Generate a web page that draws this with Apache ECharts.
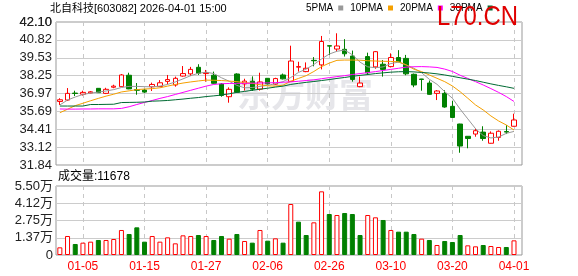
<!DOCTYPE html>
<html><head><meta charset="utf-8">
<script src="https://cdn.jsdelivr.net/npm/echarts@6/dist/echarts.min.js"></script>
<style>html,body{margin:0;padding:0;background:#fff}#c{width:578px;height:276px}</style>
</head><body><div id="c"></div>
<script>
const dates = ['12-29','12-30','12-31','01-05','01-06','01-07','01-08','01-09','01-12','01-13',
'01-14','01-15','01-16','01-19','01-20','01-21','01-22','01-23','01-26','01-27',
'01-28','01-29','01-30','02-02','02-03','02-04','02-05','02-06','02-09','02-10',
'02-11','02-12','02-13','02-24','02-25','02-26','02-27','03-02','03-03','03-04',
'03-05','03-06','03-09','03-10','03-11','03-12','03-13','03-16','03-17','03-18',
'03-19','03-20','03-23','03-24','03-25','03-26','03-27','03-30','03-31','04-01'];
const xTickLabels = ['01-05','01-15','01-27','02-06','02-26','03-10','03-20','04-01'];
const priceTickLabels = ['31.84','33.12','34.41','35.69','36.97','38.25','39.53','40.82','42.10'];
const volTickLabels = ['0','1.37万','2.75万','4.12万','5.50万'];
const opens = [36.40,36.50,37.00,36.92,37.01,37.34,36.98,37.42,37.46,38.28,
37.25,37.22,37.45,37.47,37.84,37.58,38.22,38.38,38.85,38.40,
38.28,37.65,36.74,38.37,37.66,37.85,37.28,38.06,37.64,38.30,
37.84,38.86,38.54,39.35,39.02,40.40,40.16,40.14,39.66,37.46,
39.62,38.88,39.07,38.90,39.55,39.49,38.35,38.01,37.72,36.98,
36.98,36.05,34.78,33.90,34.06,34.20,33.40,33.82,34.24,34.62];
const closes = [36.52,36.98,36.97,37.05,37.09,37.03,37.27,37.50,38.30,37.30,
37.20,37.07,37.62,37.74,37.97,38.06,38.40,38.70,38.42,38.46,
37.70,36.83,37.27,37.06,37.86,37.28,37.80,37.66,38.04,38.02,
39.30,38.90,38.78,39.32,40.70,40.37,40.38,39.82,37.98,37.72,
38.45,39.97,38.70,39.55,39.26,38.38,37.58,37.98,36.91,37.15,
36.00,35.25,33.20,33.74,34.30,33.74,34.12,34.26,34.20,35.07];
const lows = [36.15,36.43,36.79,36.82,36.98,37.02,36.93,37.35,37.44,37.28,
36.88,37.00,37.15,37.44,37.63,37.46,38.18,38.22,38.30,37.82,
37.68,36.74,36.31,37.02,37.18,37.15,37.18,37.62,37.60,37.98,
37.80,38.54,38.50,38.92,38.70,39.73,39.97,39.62,37.82,37.42,
38.30,38.75,38.18,38.84,39.20,38.28,37.42,37.17,36.88,36.50,
35.95,35.22,32.72,33.04,33.87,33.58,33.38,33.58,34.06,34.60];
const highs = [36.63,37.36,37.17,37.17,37.15,37.36,37.38,37.60,38.37,38.46,
37.72,37.30,37.75,37.93,38.30,38.18,38.94,38.88,39.07,38.66,
38.54,37.72,37.41,38.42,38.03,38.20,38.46,38.08,38.10,38.40,
40.40,39.25,39.20,39.58,41.10,40.42,41.29,40.87,40.05,38.18,
39.90,40.02,39.37,39.85,40.08,39.74,38.40,38.02,37.90,37.22,
37.20,36.45,34.80,33.92,34.45,34.62,34.25,34.32,34.70,35.52];
const volumes = [6110,15145,8770,9830,10630,11960,11960,12750,19930,16740,
22050,10630,15145,10630,14080,9300,15670,15145,15940,15145,
11960,15145,13020,16740,11160,9830,19930,11425,13280,9830,
40650,26570,15940,26040,50750,32680,31880,33480,32680,15940,
31880,30030,27900,19930,18600,18600,16740,13020,11960,7970,
11160,10360,15940,7700,6910,7970,7170,6380,6380,11678];
const prevClose = 36.30;
const ma5 = [36.15,36.50,36.72,36.90,37.00,37.07,37.15,37.25,37.40,37.48,
37.48,37.46,37.45,37.50,37.62,37.80,38.02,38.25,38.42,38.50,
38.40,38.10,37.85,37.55,37.38,37.40,37.48,37.55,37.68,37.82,
38.12,38.48,38.72,39.05,39.45,39.80,40.00,40.09,39.75,39.22,
38.88,38.82,38.88,39.12,39.22,39.02,38.78,38.46,37.99,37.63,
37.10,36.63,35.85,35.15,34.45,33.95,33.78,33.85,34.11,34.25];
const ma10 = [35.59,35.84,36.10,36.27,36.45,36.62,36.78,36.92,37.08,37.16,
37.25,37.29,37.32,37.38,37.50,37.62,37.72,37.80,37.87,37.93,
37.92,37.90,37.86,37.82,37.75,37.70,37.60,37.52,37.50,37.57,
37.85,38.05,38.25,38.55,38.90,39.15,39.35,39.37,39.37,39.36,
39.32,39.30,39.28,39.27,39.25,39.02,38.71,38.54,38.30,38.06,
37.82,37.51,37.10,36.63,36.15,35.79,35.36,35.00,34.71,34.35];
const ma20 = [35.86,35.85,35.85,35.86,35.86,35.87,35.87,35.87,35.90,36.02,
36.18,36.33,36.47,36.62,36.75,36.90,37.05,37.20,37.35,37.50,
37.62,37.67,37.69,37.70,37.70,37.71,37.72,37.73,37.75,37.78,
37.80,37.85,37.90,37.95,38.03,38.11,38.18,38.25,38.33,38.40,
38.47,38.54,38.62,38.70,38.78,38.86,38.89,38.90,38.88,38.84,
38.72,38.55,38.28,38.05,37.82,37.58,37.32,37.05,36.75,36.40];
const ma30 = [36.07,36.07,36.07,36.07,36.18,36.18,36.19,36.20,36.32,36.33,
36.34,36.36,36.42,36.44,36.47,36.52,36.57,36.63,36.68,36.75,
36.80,36.86,36.95,37.05,37.12,37.20,37.28,37.35,37.43,37.50,
37.62,37.70,37.77,37.83,37.90,37.97,38.05,38.12,38.20,38.27,
38.33,38.40,38.45,38.50,38.53,38.54,38.52,38.48,38.44,38.38,
38.30,38.20,38.10,38.00,37.90,37.78,37.66,37.55,37.45,37.34];

function measure(font, text) {
  const ctx = document.createElement('canvas').getContext('2d');
  ctx.font = font; return ctx.measureText(text).width;
}
const narrowOK = measure('28px "Liberation Sans Narrow", monospace', 'L70.CN') !== measure('28px monospace', 'L70.CN');
const SANS = '"Liberation Sans", "Noto Sans CJK SC", sans-serif';
const NARROW = narrowOK ? '"Liberation Sans Narrow", "Noto Sans CJK SC", sans-serif' : SANS;
const markW = measure('28px ' + NARROW, 'L70.CN');

const tickIdx = xTickLabels.map(d => dates.indexOf(d));
const UP = '#ff0000', DOWN = '#008000';
const priceTickValues = priceTickLabels.map(Number);
const P_MIN = priceTickValues[0], P_MAX = priceTickValues[priceTickValues.length - 1];
const P_INT = (P_MAX - P_MIN) / (priceTickValues.length - 1);
const V_MAX = 55000, V_INT = V_MAX / 4;

const candleData = dates.map((d, i) => [i, opens[i], closes[i], lows[i], highs[i]]);
const volData = volumes.map((v, i) => {
  const pc = i === 0 ? prevClose : closes[i - 1];
  const up = closes[i] >= pc;
  return { value: [i, v], itemStyle: up ? { color: '#fff', borderColor: UP, borderWidth: 1 } : { color: DOWN, borderColor: DOWN, borderWidth: 1 } };
});
const line = (name, arr, color) => ({
  name, type: 'line', xAxisIndex: 0, yAxisIndex: 0, data: arr.map((v, i) => [i, v]),
  showSymbol: false, symbol: 'none', lineStyle: { width: 1, color }, itemStyle: { color }, z: 4, silent: true
});
const xAxisFor = (gi, show) => ({
  type: 'value', gridIndex: gi, min: -0.5, max: 60.04,
  axisLine: { show: false, onZero: false },
  axisTick: { show: false, customValues: tickIdx },
  axisLabel: { show: show, customValues: tickIdx, formatter: v => dates[Math.round(v)], color: UP, fontSize: 12, margin: 6, fontFamily: SANS },
  splitLine: { show: true, lineStyle: { color: '#c8c8c8', type: [4, 4], width: 1 } }
});
const baseGraphics = [
  { id: 'title', type: 'text', left: 50, top: 3, silent: true,
    style: { text: '北自科技[603082] 2026-04-01 15:00', font: '11px ' + SANS, fill: '#000' } },
  { id: 'vol', type: 'text', left: 58, top: 171, silent: true,
    style: { text: '成交量:' + volumes[volumes.length - 1], font: '12px ' + SANS, fill: '#000' } },
  { id: 'wm', type: 'text', left: 237, top: 77, z: -10, silent: true,
    style: { text: '东方财富', font: 'bold 34px "Noto Sans CJK SC"', fill: '#e6e6ea' } },
  { id: 'mark', type: 'text', left: 437, top: 3, z: 100, silent: true, scaleX: 81 / markW,
    style: { text: 'L70.CN', font: '28px ' + NARROW, fill: '#e00000' } }
];

const chart = echarts.init(document.getElementById('c'), null, { renderer: 'canvas' });
chart.setOption({
  animation: false,
  backgroundColor: '#fff',
  legend: {
    left: 306, top: 3, align: 'right', icon: 'rect', itemWidth: 5, itemHeight: 5, itemGap: 7, padding: 0,
    selectedMode: false,
    textStyle: { fontSize: narrowOK ? 11 : 10, color: '#000', fontFamily: NARROW },
    data: ['5PMA', '10PMA', '20PMA', '30PMA']
  },
  graphic: baseGraphics,
  grid: [
    { left: 56, top: 22, width: 466, height: 143, show: true, borderColor: '#999', borderWidth: 1, backgroundColor: 'transparent' },
    { left: 56, top: 186, width: 466, height: 69, show: true, borderColor: '#999', borderWidth: 1, backgroundColor: 'transparent' }
  ],
  xAxis: [xAxisFor(0, false), xAxisFor(1, true)],
  yAxis: [
    { type: 'value', gridIndex: 0, min: P_MIN, max: P_MAX,
      axisLine: { show: false, onZero: false },
      axisTick: { show: false, customValues: priceTickValues },
      axisLabel: { customValues: priceTickValues, showMinLabel: true, showMaxLabel: true, hideOverlap: false,
        formatter: v => priceTickLabels[Math.round((v - P_MIN) / P_INT)] || '', color: '#222', fontSize: 13, margin: 4, fontFamily: SANS },
      splitLine: { show: true, lineStyle: { color: '#cccccc', width: 1 } } },
    { type: 'value', gridIndex: 1, min: 0, max: V_MAX, interval: V_INT,
      axisLine: { show: false, onZero: false }, axisTick: { show: false },
      axisLabel: { showMinLabel: true, showMaxLabel: true, formatter: v => volTickLabels[Math.round(v / V_INT)] || '', color: '#222', fontSize: 13, margin: 3, fontFamily: SANS },
      splitLine: { show: true, lineStyle: { color: '#cccccc', width: 1 } } }
  ],
  series: [
    { type: 'candlestick', xAxisIndex: 0, yAxisIndex: 0, data: candleData, encode: { x: 0, y: [1, 2, 3, 4] },
      barWidth: 5, z: 3,
      itemStyle: { color: '#fff', color0: DOWN, borderColor: UP, borderColor0: DOWN, borderWidth: 1 } },
    line('5PMA', ma5, '#999999'),
    line('10PMA', ma10, '#f5a000'),
    line('20PMA', ma20, '#ff00ff'),
    line('30PMA', ma30, '#006a33'),
    { type: 'bar', xAxisIndex: 1, yAxisIndex: 1, data: volData, barWidth: 5 }
  ]
});

// Backup for the top price tick label (placed with the library's own scale)
const topY = chart.convertToPixel({ yAxisIndex: 0 }, P_MAX);
const leftX = chart.convertToPixel({ xAxisIndex: 0 }, -0.5);
chart.setOption({
  graphic: baseGraphics.concat([
    { id: 'topTick', type: 'text', x: leftX - 4, y: topY, silent: true, z: 50,
      style: { text: priceTickLabels[priceTickLabels.length - 1], font: '13px ' + SANS, fill: '#222', align: 'right', verticalAlign: 'middle' } }
  ])
});
</script></body></html>
